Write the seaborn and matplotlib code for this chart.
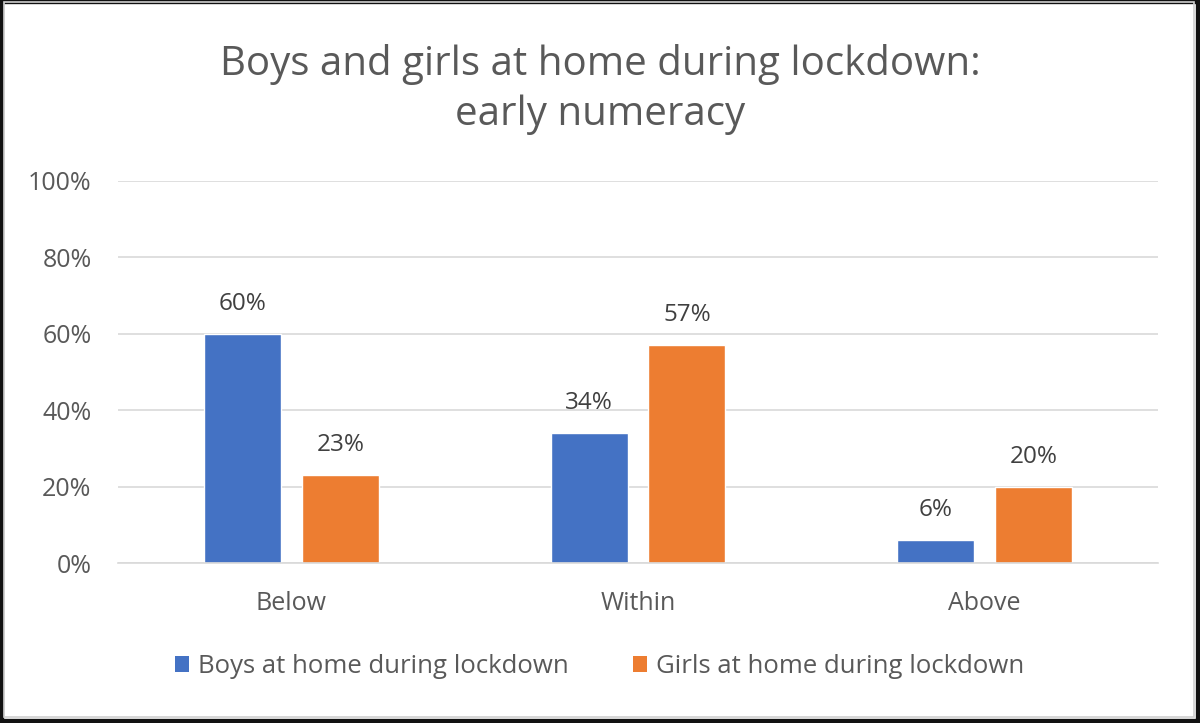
import matplotlib
matplotlib.use("Agg")
import matplotlib.pyplot as plt
import seaborn as sns
import pandas as pd
from matplotlib.patches import Rectangle, Patch
from matplotlib.ticker import FuncFormatter

categories = ["Below", "Within", "Above"]
boys = [60, 34, 6]
girls = [23, 57, 20]
series_names = ["Boys at home during lockdown", "Girls at home during lockdown"]
title = "Boys and girls at home during lockdown:\nearly numeracy"

df = pd.DataFrame({
    "category": categories * 2,
    "value": boys + girls,
    "series": [series_names[0]] * 3 + [series_names[1]] * 3,
})

sns.set_theme(style="white")
plt.rcParams["font.family"] = ["Open Sans", "DejaVu Sans"]
text_color = "#595959"
colors = ["#4472C4", "#ED7D31"]

fig = plt.figure(figsize=(12, 7.23), dpi=100)
ax = fig.add_axes([0.0983, 0.2213, 0.8667, 0.5284])

sns.barplot(data=df, x="category", y="value", hue="series", order=categories,
            hue_order=series_names, palette=colors, width=0.565, gap=0.214,
            saturation=1, ax=ax, legend=False)

ax.set_ylim(0, 100)
ax.set_xlim(-0.5, 2.5)
ax.set_yticks(range(0, 101, 20))
ax.yaxis.set_major_formatter(FuncFormatter(lambda v, p: f"{int(v)}%"))
ax.grid(axis="y", color="#D9D9D9", linewidth=1.2)
ax.set_axisbelow(True)
for s in ["top", "right", "left"]:
    ax.spines[s].set_visible(False)
ax.spines["bottom"].set_color("#D9D9D9")
ax.spines["bottom"].set_linewidth(1.2)
ax.tick_params(axis="both", length=0, labelsize=18, labelcolor=text_color)
ax.tick_params(axis="y", pad=19)
ax.tick_params(axis="x", pad=20)
ax.set_xlabel("")
ax.set_ylabel("")

for cont in ax.containers:
    ax.bar_label(cont, labels=[f"{int(v)}%" for v in cont.datavalues],
                 padding=13, fontsize=17.5, color="#404040")

fig.text(0.5, 0.876, title, ha="center", va="center", fontsize=29,
         color=text_color, linespacing=1.3)

handles = [Patch(facecolor=c, edgecolor="none") for c in colors]
fig.legend(handles, series_names, loc="center", bbox_to_anchor=(0.5, 0.078),
           ncol=2, frameon=False, fontsize=18.5, labelcolor=text_color,
           handlelength=0.55, handleheight=0.55, handletextpad=0.35,
           columnspacing=2.5)

# outer frame
fig.patches.append(Rectangle((0, 0), 1, 1, transform=fig.transFigure,
                             fill=False, edgecolor="#111111", linewidth=6,
                             zorder=10))
fig.patches.append(Rectangle((0.003, 0.008), 0.992, 0.989, transform=fig.transFigure,
                             fill=False, edgecolor="#CFCFCF", linewidth=1.2,
                             zorder=10))

fig.savefig("out.png", dpi=100, facecolor="white")
